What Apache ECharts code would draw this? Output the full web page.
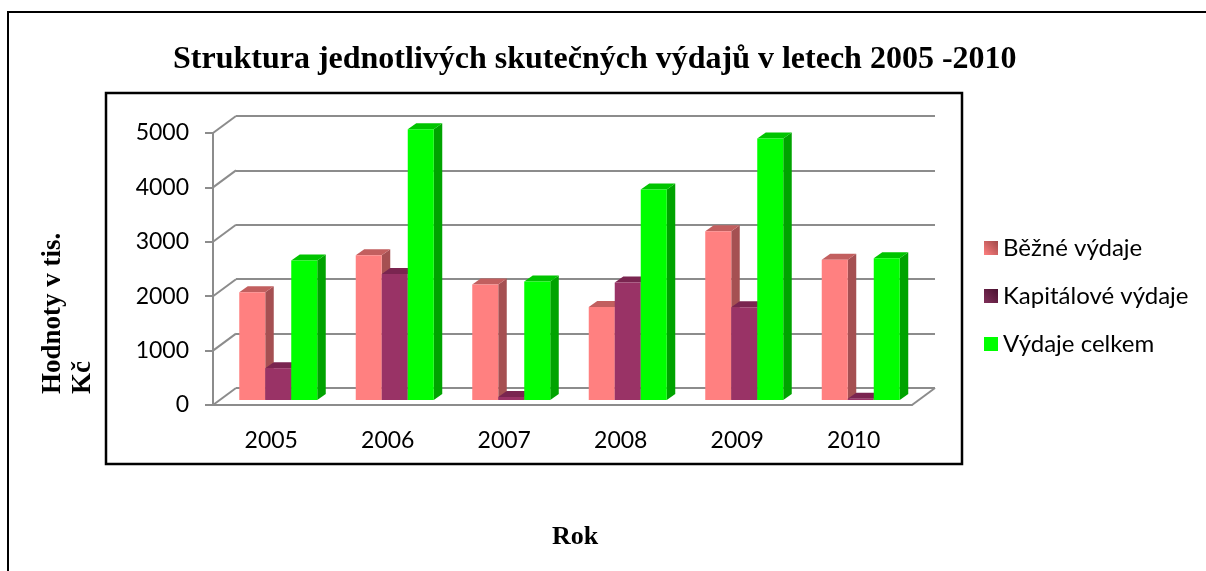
<!DOCTYPE html>
<html>
<head>
<meta charset="utf-8">
<style>
  html, body { margin: 0; padding: 0; background: #fff; }
  #chart { width: 1206px; height: 571px; }
</style>
<script src="https://cdn.jsdelivr.net/npm/echarts@6/dist/echarts.min.js"></script>
</head>
<body>
<div id="chart"></div>
<script>
// data
const years = ['2005', '2006', '2007', '2008', '2009', '2010'];
const bezneVydaje = [1980, 2660, 2125, 1710, 3100, 2580];
const kapitaloveVydaje = [585, 2315, 55, 2160, 1705, 25];
const vydajeCelkem = [2565, 4975, 2180, 3870, 4805, 2605];
const yTicks = [0, 1000, 2000, 3000, 4000, 5000];

const seriesNames = ['Běžné výdaje', 'Kapitálové výdaje', 'Výdaje celkem'];
const seriesData = [bezneVydaje, kapitaloveVydaje, vydajeCelkem];

// front, side, top colours of each 3D column
const faceColors = [
    ['#ff8080', '#a55052', '#c25f5f'],
    ['#993366', '#6d1f47', '#7a2550'],
    ['#00ff00', '#00a300', '#00c400']
];

const labelFont = 'Lato';
const serifFont = '"Liberation Serif", "Times New Roman", serif';
const gridLine = '#8c8c8c';

// depth of the 3D walls and of one column
const wallDx = 23, wallDy = -17;
const barDx = 8.5, barDy = -6;
const barW = 26;

const chart = echarts.init(document.getElementById('chart'));

// left side wall + floor edge diagonals
function renderDiagonals(params, api) {
    const cs = params.coordSys;
    const y = api.coord([0, api.value(0)])[1];
    const lineStyle = { stroke: gridLine, lineWidth: 2 };
    const children = [{
        type: 'line',
        shape: { x1: cs.x, y1: y, x2: cs.x + wallDx, y2: y + wallDy },
        style: lineStyle
    }];
    if (api.value(0) === 0) {
        children.push({
            type: 'line',
            shape: { x1: cs.x + cs.width, y1: y, x2: cs.x + cs.width + wallDx, y2: y + wallDy },
            style: lineStyle
        });
    }
    return { type: 'group', children: children };
}

// one 3D column
function makeBarRenderer(k) {
    return function (params, api) {
        const top = api.coord([api.value(0), api.value(1)]);
        const base = api.coord([api.value(0), 0]);
        const x0 = top[0] - barW * 1.5 + k * barW;
        const x1 = x0 + barW;
        const yt = top[1], yb = base[1];
        const c = faceColors[k];
        return {
            type: 'group',
            children: [
                {
                    type: 'polygon',
                    shape: { points: [[x1, yt], [x1 + barDx, yt + barDy], [x1 + barDx, yb + barDy], [x1, yb]] },
                    style: { fill: c[1] }
                },
                {
                    type: 'polygon',
                    shape: { points: [[x0, yt], [x0 + barDx, yt + barDy], [x1 + barDx, yt + barDy], [x1, yt]] },
                    style: { fill: c[2] }
                },
                {
                    type: 'rect',
                    shape: { x: x0, y: yt, width: barW, height: Math.max(yb - yt, 0) },
                    style: { fill: c[0] }
                }
            ]
        };
    };
}

const option = {
    backgroundColor: '#fff',
    animation: false,
    title: {
        text: 'Struktura jednotlivých skutečných výdajů v letech 2005 -2010',
        left: 168,
        top: 39,
        textStyle: { fontFamily: serifFont, fontWeight: 'bold', fontSize: 32, color: '#000' }
    },
    legend: {
        orient: 'vertical',
        left: 979,
        top: 230,
        itemWidth: 14,
        itemHeight: 14,
        itemGap: 22,
        selectedMode: false,
        textStyle: { fontFamily: labelFont, fontSize: 24, color: '#000', lineHeight: 26 },
        data: [
            {
                name: seriesNames[0], icon: 'rect',
                itemStyle: { color: new echarts.graphic.LinearGradient(1, 0, 0, 1, [
                    { offset: 0, color: '#a04848' }, { offset: 1, color: '#ff8080' }]) }
            },
            {
                name: seriesNames[1], icon: 'rect',
                itemStyle: { color: new echarts.graphic.LinearGradient(1, 0, 0, 1, [
                    { offset: 0, color: '#4a1030' }, { offset: 1, color: '#80305a' }]) }
            },
            { name: seriesNames[2], icon: 'rect', itemStyle: { color: '#00ff00' } }
        ]
    },
    grid: [
        // front axes
        { left: 213, top: 133, width: 699, height: 272 },
        // back wall
        { left: 236, top: 116, width: 699, height: 272 },
        // column plane
        { left: 220, top: 128, width: 699, height: 272 }
    ],
    xAxis: [
        {
            gridIndex: 0, type: 'category', data: years,
            axisLine: { lineStyle: { color: gridLine, width: 2 } },
            axisTick: { length: 8, lineStyle: { color: gridLine, width: 2 } },
            axisLabel: { fontFamily: labelFont, fontSize: 23, color: '#000', margin: 24 }
        },
        { gridIndex: 1, type: 'category', data: years, show: false },
        { gridIndex: 2, type: 'category', data: years, show: false }
    ],
    yAxis: [
        {
            gridIndex: 0, type: 'value', min: 0, max: 5000, interval: 1000,
            axisLine: { show: true, lineStyle: { color: gridLine, width: 2 } },
            axisTick: { show: true, length: 8, lineStyle: { color: gridLine, width: 2 } },
            axisLabel: {
                fontFamily: labelFont, fontSize: 23, color: '#000', margin: 24,
                formatter: v => String(v)
            },
            splitLine: { show: false }
        },
        {
            gridIndex: 1, type: 'value', min: 0, max: 5000, interval: 1000,
            axisLine: { show: false }, axisTick: { show: false }, axisLabel: { show: false },
            splitLine: { show: true, lineStyle: { color: gridLine, width: 2 } }
        },
        {
            gridIndex: 2, type: 'value', min: 0, max: 5000, interval: 1000, show: false,
            splitLine: { show: false }
        }
    ],
    graphic: [
        {
            type: 'rect', silent: true,
            shape: { x: 8, y: 12, width: 1400, height: 800 },
            style: { fill: null, stroke: '#000', lineWidth: 2 }
        },
        {
            type: 'rect', silent: true,
            shape: { x: 106, y: 93, width: 856, height: 371 },
            style: { fill: null, stroke: '#000', lineWidth: 2.5 }
        },
        {
            type: 'text', silent: true,
            x: 68, y: 394, rotation: Math.PI / 2,
            style: {
                text: 'Hodnoty v tis.\nKč',
                font: 'bold 27px ' + serifFont,
                fill: '#000', align: 'left', verticalAlign: 'middle', lineHeight: 30
            }
        },
        {
            type: 'text', silent: true,
            x: 575, y: 537,
            style: {
                text: 'Rok',
                font: 'bold 26px ' + serifFont,
                fill: '#000', align: 'center', verticalAlign: 'middle'
            }
        }
    ],
    series: [
        {
            type: 'custom', name: 'walls', xAxisIndex: 0, yAxisIndex: 0, silent: true,
            data: yTicks.map(v => [v]),
            renderItem: renderDiagonals, z: 1
        }
    ].concat(seriesNames.map((name, k) => ({
        type: 'custom', name: name, xAxisIndex: 2, yAxisIndex: 2,
        itemStyle: { color: faceColors[k][0] },
        data: seriesData[k].map((v, i) => [i, v]),
        renderItem: makeBarRenderer(k), z: 3
    })))
};

chart.setOption(option);
window.addEventListener('resize', function () { chart.resize(); });
</script>
</body>
</html>
